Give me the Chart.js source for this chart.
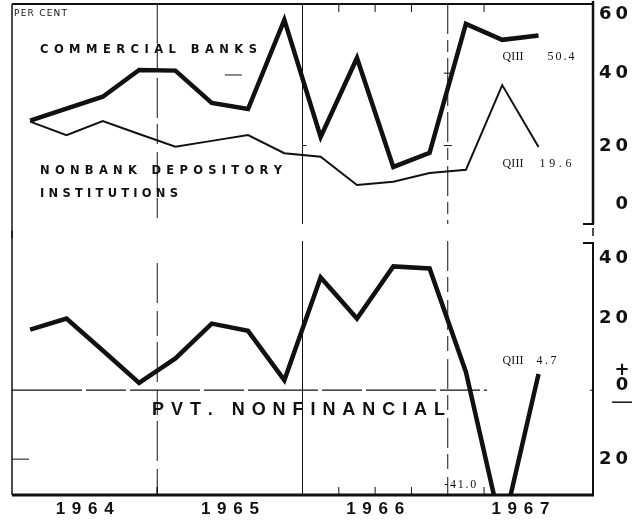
<!DOCTYPE html>
<html>
<head>
<meta charset="utf-8">
<script src="https://cdn.jsdelivr.net/npm/chart.js@4"></script>
<style>
  html, body { margin: 0; padding: 0; background: #fff; }
  #wrap { position: relative; width: 643px; height: 522px; background: #fff; }
  canvas { position: absolute; left: 0; top: 0; }
</style>
</head>
<body>
<div id="wrap">
  <canvas id="top" width="643" height="522"></canvas>
  <canvas id="bottom" width="643" height="522"></canvas>
</div>
<script>
// ---- data (percent, quarterly) ----
const quarters = ['1964 Q1','1964 Q2','1964 Q3','1964 Q4',
                  '1965 Q1','1965 Q2','1965 Q3','1965 Q4',
                  '1966 Q1','1966 Q2','1966 Q3','1966 Q4',
                  '1967 Q1','1967 Q2','1967 Q3','1967 Q4'];
const years = ['1964', '1965', '1966', '1967'];
const commercialBanks   = [26.9, 30.2, 33.5, 40.9, 40.7, 31.8, 30.1, 54.7, 22.4, 44.2, 14.1, 18.0, 53.6, 49.2, 50.4];
const nonbankDepository = [26.6, 22.9, 26.8, 23.2, 19.7, 21.3, 22.9, 17.9, 16.9, 9.1, 10.0, 12.4, 13.3, 36.7, 19.6];
const pvtNonfinancial   = [17.6, 20.8, 11.5, 2.1, 9.2, 19.3, 17.2, 2.9, 32.7, 20.8, 35.9, 35.3, 5.3, -41.0, 4.7];
const topTickLabels    = ['60', '40', '20', '0'];
const bottomTickLabels = ['40', '20', '0', '20'];

const INK = '#111';
const SANS = '"DejaVu Sans"';
const LIB = '"Liberation Sans"';

function natural(ctx, text) {
  let t = 0; for (const ch of text) t += ctx.measureText(ch).width; return t;
}
function spaced(ctx, text, x, y, spacing, align) {
  const w = [];
  let total = 0;
  for (const ch of text) { const cw = ctx.measureText(ch).width; w.push(cw); total += cw; }
  total += spacing * (text.length - 1);
  let cx = x;
  if (align === 'right') cx = x - total;
  else if (align === 'center') cx = x - total / 2;
  ctx.textAlign = 'left';
  let i = 0;
  for (const ch of text) { ctx.fillText(ch, cx, y); cx += w[i++] + spacing; }
}
// draw text letter-spaced so that it spans the given width
function fit(ctx, text, x, y, width, align) {
  const n = [...text].length;
  const sp = n > 1 ? (width - natural(ctx, text)) / (n - 1) : 0;
  spaced(ctx, text, x, y, sp, align);
}
function line(ctx, x1, y1, x2, y2, w, dash) {
  ctx.save();
  ctx.lineWidth = w;
  ctx.strokeStyle = INK;
  ctx.setLineDash(dash || []);
  ctx.beginPath(); ctx.moveTo(x1, y1); ctx.lineTo(x2, y2); ctx.stroke();
  ctx.restore();
}
function boundary(xs, i) { // pixel between category i-1 and i
  return (xs.getPixelForValue(i - 1) + xs.getPixelForValue(i)) / 2;
}
// "QIII  value" end-of-series note
function qNote(ctx, x, y, value, numStart, numWidth) {
  ctx.font = '12px "Liberation Serif"';
  fit(ctx, 'QIII', x, y, 21, 'left');
  fit(ctx, value, x + numStart, y, numWidth, 'left');
}

const topDecor = {
  id: 'topDecor',
  beforeDatasetsDraw(chart) {
    const {ctx, chartArea: a, scales: {x, y}} = chart;
    line(ctx, a.left, a.top, a.right, a.top, 2);
    line(ctx, a.left, a.top, a.left, a.bottom + 14, 1.5);
    line(ctx, a.right, a.top - 3, a.right, a.bottom, 2.5);
    line(ctx, a.right - 10, a.bottom, a.right + 1, a.bottom, 2);
    line(ctx, a.right, a.bottom + 4, a.right, a.bottom + 12, 1.5);
    const b1 = boundary(x, 4), b2 = boundary(x, 8), b3 = boundary(x, 12);
    line(ctx, b1, a.top, b1, a.bottom, 1, [40, 6, 20, 8]);
    line(ctx, b2, a.top, b2, a.bottom, 1);
    line(ctx, b3, a.top, b3, a.bottom, 1, [30, 6, 12, 6]);
    [9, 10, 11, 13].forEach(i => { const q = boundary(x, i); line(ctx, q, a.top, q, a.top + 8, 1); });
    line(ctx, b3 - 4, y.getPixelForValue(40), b3 + 4, y.getPixelForValue(40), 1);
    line(ctx, b3 - 4, y.getPixelForValue(20), b3 + 4, y.getPixelForValue(20), 1);
    line(ctx, b2, y.getPixelForValue(20), b2 + 4, y.getPixelForValue(20), 1);
    line(ctx, boundary(x, 6) - 5, y.getPixelForValue(39.5), boundary(x, 6) + 12, y.getPixelForValue(39.5), 1);
  },
  afterDraw(chart) {
    const {ctx, chartArea: a, scales: {x, y}} = chart;
    ctx.save();
    ctx.fillStyle = INK;
    ctx.textBaseline = 'middle';
    ctx.font = '9px ' + SANS;
    fit(ctx, 'PER CENT', a.left + 2, 14, 53, 'left');
    ctx.font = 'bold 11.5px ' + SANS;
    fit(ctx, 'COMMERCIAL BANKS', 40, 50.5, 217, 'left');
    fit(ctx, 'NONBANK DEPOSITORY', 40, 171, 242, 'left');
    fit(ctx, 'INSTITUTIONS', 40, 194, 138, 'left');
    const last = commercialBanks.length - 1;
    const lx = x.getPixelForValue(last);
    qNote(ctx, lx - 36, y.getPixelForValue(commercialBanks[last]) + 21, '50.4', 45, 27);
    qNote(ctx, lx - 36, y.getPixelForValue(nonbankDepository[last]) + 17, '19.6', 37, 32);
    ctx.font = 'bold 18px ' + SANS;
    const rx = a.right + 35;
    spaced(ctx, topTickLabels[0], rx, a.top + 10, 4, 'right');
    spaced(ctx, topTickLabels[1], rx, y.getPixelForValue(40), 4, 'right');
    spaced(ctx, topTickLabels[2], rx, y.getPixelForValue(20) + 1, 4, 'right');
    spaced(ctx, topTickLabels[3], rx, a.bottom - 20, 4, 'right');
    ctx.restore();
  }
};

const bottomDecor = {
  id: 'bottomDecor',
  beforeDatasetsDraw(chart) {
    const {ctx, chartArea: a, scales: {x, y}} = chart;
    line(ctx, a.left, a.top - 12, a.left, a.bottom, 1.5);
    line(ctx, a.left, a.bottom, a.right + 1, a.bottom, 3);
    line(ctx, a.right, a.top, a.right, a.bottom, 2);
    line(ctx, a.right - 10, a.top, a.right + 1, a.top, 2);
    const z = y.getPixelForValue(0);
    line(ctx, a.left, z, boundary(x, 13) + 3, z, 1.2, [70, 4, 40, 4]);
    line(ctx, a.right - 3, z, a.right, z, 1);
    const b1 = boundary(x, 4), b2 = boundary(x, 8), b3 = boundary(x, 12);
    line(ctx, b1, a.top + 20, b1, a.bottom, 1, [40, 8, 25, 6]);
    line(ctx, b2, a.top - 2, b2, a.bottom, 1);
    line(ctx, b3, a.top - 2, b3, a.bottom, 1, [30, 6, 15, 8]);
    [9, 10, 11, 13].forEach(i => { const q = boundary(x, i); line(ctx, q, a.bottom - 8, q, a.bottom, 1); });
    line(ctx, b1, a.bottom - 8, b1, a.bottom, 1.5);
    line(ctx, a.left, y.getPixelForValue(-20), a.left + 17, y.getPixelForValue(-20), 1);
    line(ctx, b2, y.getPixelForValue(20), b2 + 4, y.getPixelForValue(20), 1);
  },
  afterDraw(chart) {
    const {ctx, chartArea: a, scales: {x, y}} = chart;
    ctx.save();
    ctx.fillStyle = INK;
    ctx.textBaseline = 'middle';
    ctx.font = 'bold 18px ' + LIB;
    fit(ctx, 'PVT. NONFINANCIAL', 152, y.getPixelForValue(0) + 20, 293, 'left');
    const last = pvtNonfinancial.length - 1;
    qNote(ctx, x.getPixelForValue(last) - 36, y.getPixelForValue(pvtNonfinancial[last]) - 13, '4.7', 34, 20);
    ctx.font = '12px "Liberation Serif"';
    fit(ctx, '-41.0', x.getPixelForValue(last - 1) - 58, a.bottom - 10, 32, 'left');
    ctx.font = 'bold 17px ' + LIB;
    years.forEach((yr, k) => {
      const left = k === 0 ? a.left : boundary(x, 4 * k);
      const right = k === 3 ? a.right : boundary(x, 4 * k + 4);
      fit(ctx, yr, (left + right) / 2, a.bottom + 14, 58, 'center');
    });
    ctx.font = 'bold 18px ' + SANS;
    const rx = a.right + 35;
    spaced(ctx, bottomTickLabels[0], rx, a.top + 15, 4, 'right');
    spaced(ctx, bottomTickLabels[1], rx, y.getPixelForValue(20) - 3, 4, 'right');
    const z = y.getPixelForValue(0);
    spaced(ctx, '+', a.right + 29, z - 20, 0, 'center');
    spaced(ctx, bottomTickLabels[2], a.right + 29, z - 5, 0, 'center');
    line(ctx, a.right + 19, z + 12, a.right + 39, z + 12, 1.5);
    spaced(ctx, bottomTickLabels[3], rx, y.getPixelForValue(-20), 4, 'right');
    ctx.restore();
  }
};

const common = {
  responsive: false,
  animation: false,
  events: [],
  plugins: { legend: { display: false }, tooltip: { enabled: false } },
  elements: { point: { radius: 0 }, line: { tension: 0, borderJoinStyle: 'miter', borderCapStyle: 'butt' } }
};

new Chart(document.getElementById('top'), {
  type: 'line',
  data: {
    labels: quarters,
    datasets: [
      { label: 'Commercial banks', data: commercialBanks, borderColor: INK, borderWidth: 4.5, fill: false },
      { label: 'Nonbank depository institutions', data: nonbankDepository, borderColor: INK, borderWidth: 2, fill: false }
    ]
  },
  options: Object.assign({}, common, {
    layout: { padding: { left: 12, right: 50, top: 4, bottom: 298 } },
    scales: {
      x: { type: 'category', offset: true, display: false },
      y: { min: -1.66, max: 59.1, display: false }
    }
  }),
  plugins: [topDecor]
});

new Chart(document.getElementById('bottom'), {
  type: 'line',
  data: {
    labels: quarters,
    datasets: [
      { label: 'Pvt. nonfinancial', data: pvtNonfinancial, borderColor: INK, borderWidth: 4.5, fill: false, clip: 0 }
    ]
  },
  options: Object.assign({}, common, {
    layout: { padding: { left: 12, right: 50, top: 243, bottom: 27 } },
    scales: {
      x: { type: 'category', offset: true, display: false },
      y: { min: -30.4, max: 42.7, display: false }
    }
  }),
  plugins: [bottomDecor]
});
</script>
</body>
</html>
